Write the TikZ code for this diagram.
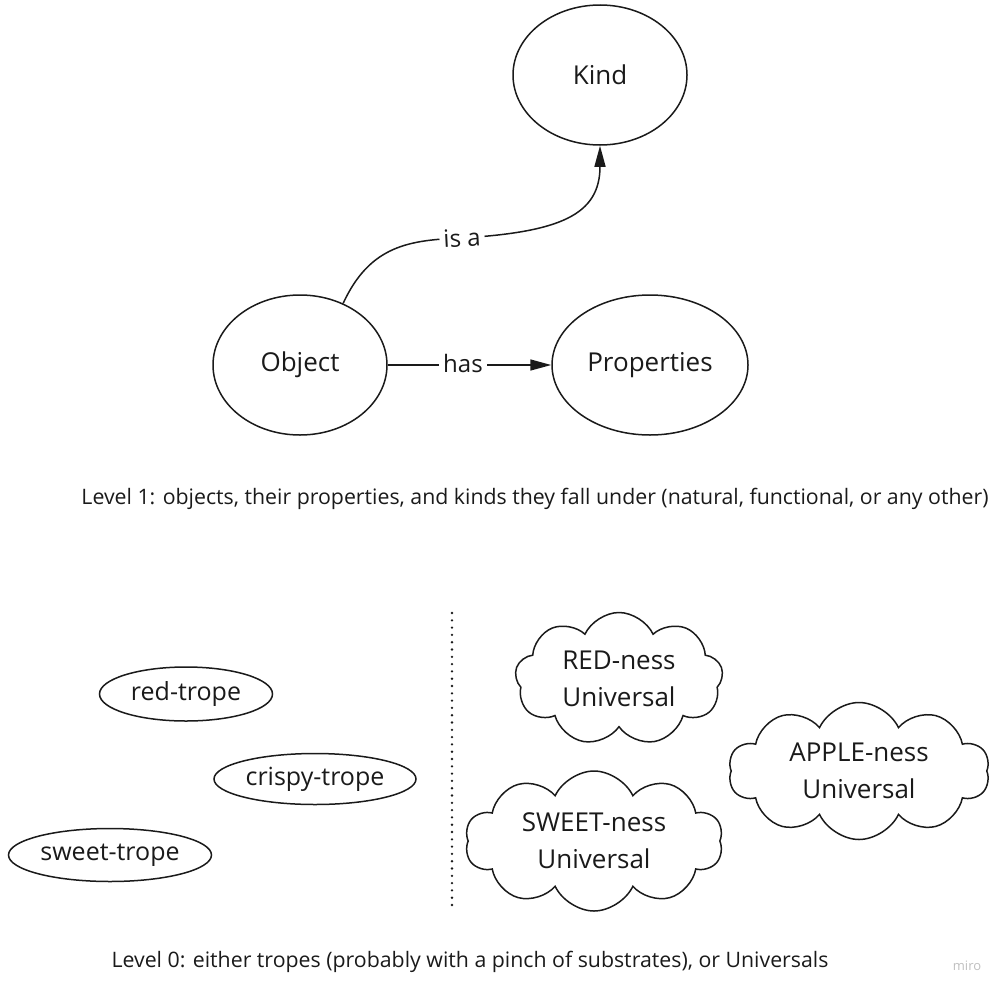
\documentclass[tikz,border=0pt]{standalone}
\usepackage{fontspec}
\setmainfont{Open Sans}
\usetikzlibrary{shapes.geometric,shapes.symbols,arrows.meta}
\definecolor{ink}{HTML}{1A1A1A}
\begin{document}
\begin{tikzpicture}[x=1pt,y=-1pt,
  oval/.style={draw=ink,line width=1.5pt,ellipse,inner sep=0pt,text=ink,font=\fontsize{26}{30}\selectfont},
  trope/.style={draw=ink,line width=1.5pt,ellipse,inner sep=0pt,text=ink,font=\fontsize{25}{30}\selectfont},
  puff/.style={draw=ink,line width=1.5pt,cloud,cloud puffs=9,cloud puff arc=130,inner sep=0pt},
  puffText/.style={text=ink,align=center,font=\fontsize{26}{37}\selectfont},
  arr/.style={draw=ink,line width=1.5pt,-{Triangle[length=21pt,width=11pt]}},
  lbl/.style={fill=white,inner sep=4pt,text=ink,font=\fontsize{24}{28}\selectfont},
  captext/.style={text=ink,font=\fontsize{21.3}{25}\selectfont}]
\useasboundingbox (0,0) rectangle (1006,993);
\node[oval,minimum width=174pt,minimum height=140pt] (kind) at (600,75) {Kind};
\node[oval,minimum width=174pt,minimum height=140pt] (obj) at (300,365) {Object};
\node[oval,minimum width=196pt,minimum height=140pt] (prop) at (650,365) {Properties};
\draw[arr] (obj.east) -- node[lbl,pos=0.46,yshift=2pt]{has} (prop.west);
\draw[arr] (obj.55) .. controls (370,245) and (410,240) .. (462,238) node[lbl,rotate=3]{is a} .. controls (560,232) and (600,215) .. (kind.south);
\node[captext] (l1) at (535,499) {Level 1: objects, their properties, and kinds they fall under (natural, functional, or any other)};
\node[trope,minimum width=173pt,minimum height=54pt] (rt) at (186,694) {red-trope};
\node[trope,minimum width=202pt,minimum height=51pt] (ct) at (315,779) {crispy-trope};
\node[trope,minimum width=203pt,minimum height=53pt] (st) at (110,855) {sweet-trope};
\coordinate (dtop) at (452,613);
\coordinate (dbot) at (452,906);
\draw[ink,line width=2.6pt,line cap=round,dash pattern=on 0pt off 7.3pt] (dtop) -- (dbot);
\node[puff,aspect=1.56,minimum width=208pt,minimum height=133pt] (red) at (619,679) {};
\node[puffText] (redt) at (red.center) {RED-ness\\Universal};
\node[puff,cloud puffs=10,aspect=1.9,minimum width=261pt,minimum height=137pt] (apple) at (859,771) {};
\node[puffText] (applet) at (apple.center) {APPLE-ness\\Universal};
\node[puff,cloud puffs=10,aspect=1.84,minimum width=258pt,minimum height=140pt] (sweet) at (594,841) {};
\node[puffText] (sweett) at (sweet.center) {SWEET-ness\\Universal};
\node[captext] (l0) at (470,962) {Level 0: either tropes (probably with a pinch of substrates), or Universals};
\node[text=black!25,font=\fontsize{13}{15}\selectfont] (miro) at (967,966) {miro};
\end{tikzpicture}
\end{document}
